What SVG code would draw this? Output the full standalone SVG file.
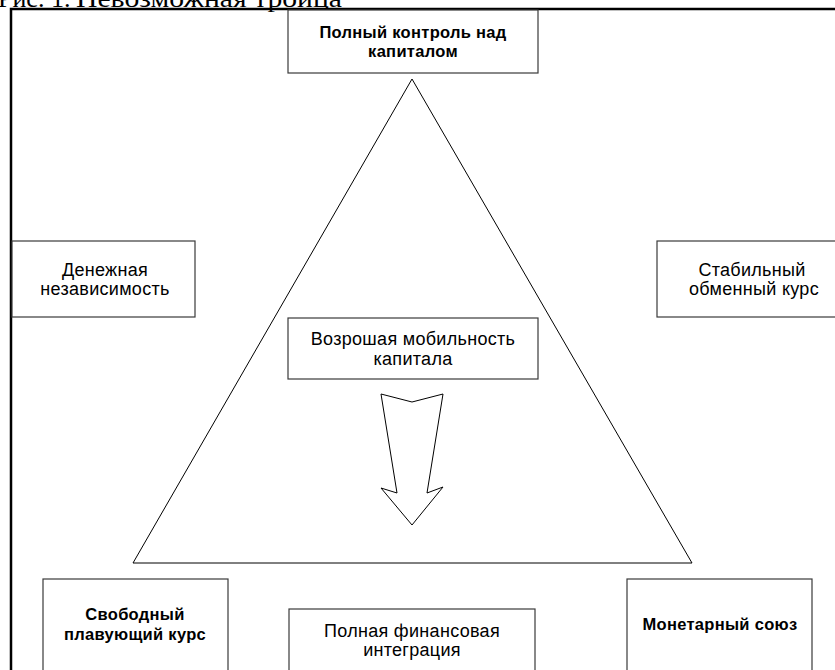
<svg xmlns="http://www.w3.org/2000/svg" width="835" height="670" viewBox="0 0 835 670">
<style>
.box{fill:#fff;stroke:#3a3a3a;stroke-width:1.2}
.t{font-family:"Liberation Sans",Arial,sans-serif;font-size:18px;fill:#000;text-anchor:middle;letter-spacing:0.3px}
.b{font-weight:bold;font-size:16.5px;letter-spacing:0.3px}
.shape{fill:#fff;stroke:#000;stroke-width:1}
.cap{font-family:"Liberation Serif","Times New Roman",serif;font-size:26px;fill:#000}
</style>
<rect width="835" height="670" fill="#fff"/>
<text class="cap" x="-2" y="7" font-size="22">Рис. 1.</text>
<text class="cap" x="76" y="7" textLength="266" lengthAdjust="spacingAndGlyphs">Невозможная троица</text>
<path d="M11,670 V9 H840" fill="none" stroke="#000" stroke-width="2.5"/>
<g id="triangle"><polygon class="shape" points="412,79 133,563 692,563"/></g>
<g id="connectors"><polygon class="shape" points="381,394 412,402 443,394 427,493 443,487 412,525 381,488 397,493"/></g>
<g id="n-top"><rect class="box" x="288" y="10" width="250" height="63"/><text class="t b" x="413" y="38">Полный контроль над</text><text class="t b" x="413" y="57">капиталом</text></g>
<g id="n-left"><rect class="box" x="12" y="241" width="183" height="76"/><text class="t" x="105" y="276">Денежная</text><text class="t" x="105" y="295">независимость</text></g>
<g id="n-right"><rect class="box" x="657" y="241" width="200" height="76"/><text class="t" x="752" y="276">Стабильный</text><text class="t" x="754" y="295">обменный курс</text></g>
<g id="n-center"><rect class="box" x="288" y="318" width="250" height="61"/><text class="t" x="413" y="345">Возрошая мобильность</text><text class="t" x="413" y="365">капитала</text></g>
<g id="n-bl"><rect class="box" x="43" y="579" width="185" height="100"/><text class="t b" x="135" y="620">Свободный</text><text class="t b" x="135" y="640">плавующий курс</text></g>
<g id="n-bc"><rect class="box" x="289" y="609" width="246" height="70"/><text class="t" x="412" y="637">Полная финансовая</text><text class="t" x="412" y="656">интеграция</text></g>
<g id="n-br"><rect class="box" x="627" y="579" width="185" height="100"/><text class="t b" x="720" y="630">Монетарный союз</text></g>
</svg>
